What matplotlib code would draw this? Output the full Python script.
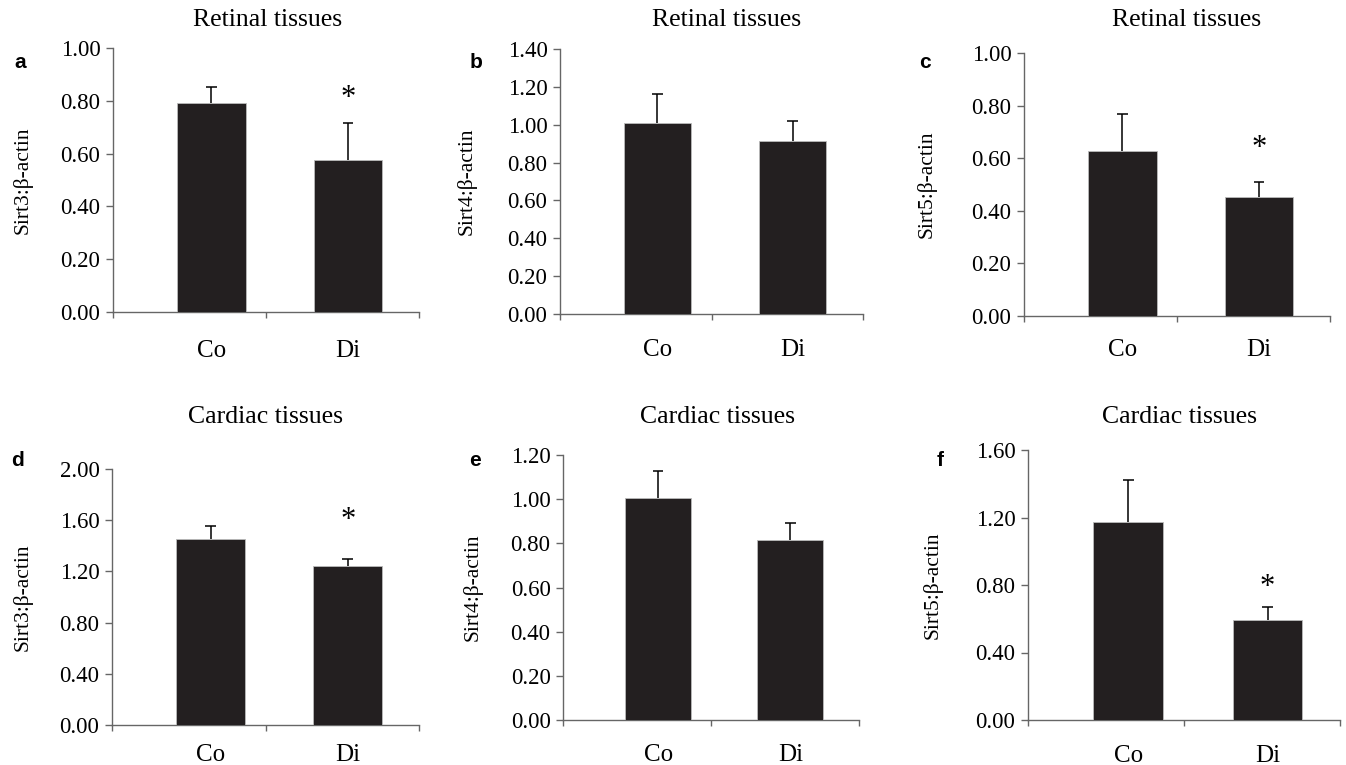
"""
Sirt3/4/5 to beta-actin ratios, retinal and cardiac tissues (panels a-f).
"""
import numpy as np
import matplotlib
matplotlib.use('Agg')
import matplotlib.pyplot as plt

plt.rcParams['font.family'] = ['Liberation Serif', 'DejaVu Serif']

# data
panel_letters = ['a', 'b', 'c', 'd', 'e', 'f']
tissues = ['Retinal tissues', 'Retinal tissues', 'Retinal tissues',
           'Cardiac tissues', 'Cardiac tissues', 'Cardiac tissues']
ylabels = ['Sirt3:β-actin', 'Sirt4:β-actin', 'Sirt5:β-actin',
           'Sirt3:β-actin', 'Sirt4:β-actin', 'Sirt5:β-actin']
groups = ['Co', 'Di']
means = [[0.793, 0.577], [1.007, 0.914], [0.626, 0.454],
         [1.452, 1.240], [1.005, 0.815], [1.173, 0.595]]
errs = [[0.060, 0.140], [0.157, 0.107], [0.143, 0.057],
        [0.099, 0.058], [0.123, 0.079], [0.247, 0.073]]
ymax = [1.0, 1.4, 1.0, 2.0, 1.2, 1.6]
ystep = [0.2, 0.2, 0.2, 0.4, 0.2, 0.4]
star_y = [0.82, None, 0.648, 1.616, None, 0.80]   # '*' marks Di vs Co

# layout in pixels: left, right, top, bottom of each plot area
W, H = 1346, 765
boxes = [(113, 419, 48, 312), (560, 863, 49, 314), (1024, 1330, 53, 316),
         (112, 419, 469, 725), (563, 859, 455, 720), (1028, 1340, 450, 720)]
ylabel_x = [33, 477, 937, 33, 483, 943]
xlabel_pad = [20.5, 17.7, 16.3, 14, 17, 17.7]
title_xy = [(268, 20), (727, 20), (1187, 20), (265, 417), (718, 417), (1180, 417)]
letter_xy = [(20, 63), (476, 62), (925, 63), (18, 460), (475, 460), (940, 460)]

BAR = '#231f20'
AXC = '#666666'
XLIM = (-0.72, 1.52)

fig = plt.figure(figsize=(W / 100, H / 100), dpi=100)

for i in range(6):
    l, r, t, b = boxes[i]
    ax = fig.add_axes([l / W, 1 - b / H, (r - l) / W, (b - t) / H])
    x = np.arange(len(groups))
    tops = np.array(means[i]) + np.array(errs[i])
    # upper error bars only, stems start at the bar top
    ax.vlines(x, means[i], tops, color='black', linewidth=1.1, zorder=2)
    ax.hlines(tops, x - 0.04, x + 0.04, color='black', linewidth=1.1, zorder=2)
    ax.bar(x, means[i], width=0.5, color=BAR, edgecolor='#bbbbbb', linewidth=0.6,
           zorder=3)
    if star_y[i] is not None:
        ax.annotate('*', (1, star_y[i]), xytext=(0, -2), textcoords='offset points',
                    ha='center', va='center', fontsize=22)

    ax.set_xlim(*XLIM)
    ax.set_ylim(0, ymax[i])
    yt = np.arange(0, ymax[i] + 1e-9, ystep[i])
    ax.set_yticks(yt)
    ax.set_yticklabels([f'{v:.2f}' for v in yt], fontsize=16.5)
    # tick marks at the ends and middle of the category axis
    ax.set_xticks([XLIM[0], sum(XLIM) / 2, XLIM[1]])
    ax.set_xticklabels([])
    ax.set_xticks(x, minor=True)
    ax.set_xticklabels(groups, minor=True, fontsize=18)
    ax.tick_params(axis='x', which='major', length=4, width=1, color=AXC)
    ax.tick_params(axis='x', which='minor', length=0, pad=xlabel_pad[i])
    ax.tick_params(axis='y', length=5, width=1, color=AXC, pad=4)

    for s in ['top', 'right']:
        ax.spines[s].set_visible(False)
    for s in ['left', 'bottom']:
        ax.spines[s].set_color(AXC)
        ax.spines[s].set_linewidth(1)

    ax.set_ylabel(ylabels[i], fontsize=15.5)
    ax.yaxis.set_label_coords((ylabel_x[i] - l) / (r - l), 0.5)

    tx, ty = title_xy[i]
    fig.text(tx / W, 1 - ty / H, tissues[i], ha='center', va='center', fontsize=18.5)
    lx, ly = letter_xy[i]
    fig.text(lx / W, 1 - ly / H, panel_letters[i], ha='center', va='center',
             fontsize=15, fontweight='bold', family=['Liberation Sans', 'DejaVu Sans'])

fig.savefig('out.png', dpi=100)
